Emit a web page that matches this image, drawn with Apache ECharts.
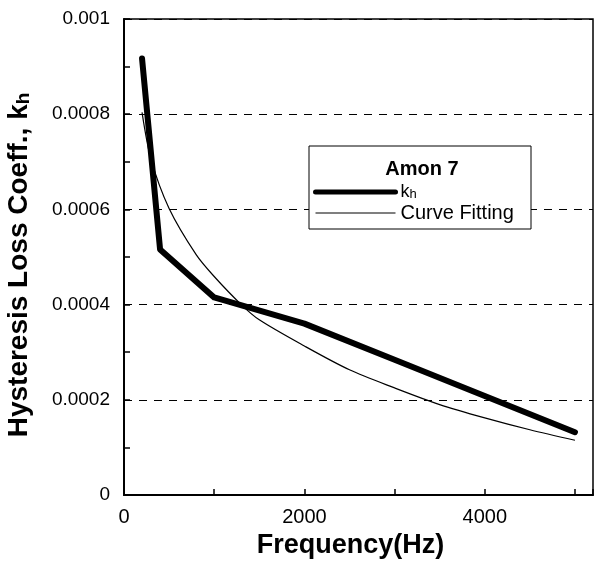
<!DOCTYPE html>
<html>
<head>
<meta charset="utf-8">
<script src="https://cdn.jsdelivr.net/npm/echarts@6/dist/echarts.min.js"></script>
<style>
    html, body { margin: 0; padding: 0; background: #fff; }
    #chart { width: 595px; height: 563px; }
</style>
</head>
<body>
<div id="chart"></div>
<script>
    // measured kh, Amon 7
    const khFreq = [200, 400, 1000, 2000, 3000, 4000, 5000];
    const khVals = [0.000917, 0.000516, 0.000415, 0.00036, 0.000284, 0.000208, 0.000132];

    // curve fitting
    const fitFreq = [200, 300, 500, 800, 1000, 1300, 1500, 2000, 2500, 3000, 3500, 4000, 4500, 5000];
    const fitVals = [0.000804, 0.000705, 0.000602, 0.000505, 0.000459, 0.0004, 0.000368, 0.000313,
                     0.000263, 0.000225, 0.00019, 0.000162, 0.000137, 0.000115];

    const xTickLabels = [0, 2000, 4000];

    const font = '"Liberation Sans", Arial, sans-serif';

    let myChart = echarts.init(document.getElementById('chart'));

    let option = {
        backgroundColor: '#fff',
        animation: false,
        grid: {
            left: 124,
            right: 2,
            top: 19,
            bottom: 68,
            outerBoundsMode: 'none',
            show: true,
            borderColor: '#000',
            borderWidth: 1.5
        },
        graphic: [
            {
                type: 'rect',
                z: 50,
                shape: { x: 309, y: 146, width: 222, height: 83 },
                style: { fill: '#fff', stroke: '#000', lineWidth: 1 }
            },
            {
                type: 'text',
                z: 51,
                style: {
                    x: 422, y: 169,
                    text: 'Amon 7',
                    align: 'center',
                    verticalAlign: 'middle',
                    font: 'bold 20px ' + font,
                    fill: '#000'
                }
            }
        ],
        legend: {
            z: 60,
            orient: 'vertical',
            left: 313,
            top: 183,
            padding: 0,
            itemWidth: 80,
            itemHeight: 14,
            itemGap: 2,
            itemStyle: { opacity: 0 },
            data: [
                { name: 'kh', lineStyle: { width: 5, color: '#000' } },
                { name: 'Curve Fitting', lineStyle: { width: 1.2, color: '#000' } }
            ],
            formatter: function (name) {
                return name === 'kh' ? '{k|k}{h|h}' : name;
            },
            textStyle: {
                color: '#000',
                fontFamily: font,
                fontSize: 20,
                rich: {
                    k: { fontSize: 18, fontFamily: font, color: '#000' },
                    h: { fontSize: 13, fontFamily: font, color: '#000', padding: [5, 0, 0, 0] }
                }
            }
        },
        xAxis: {
            type: 'value',
            min: 0,
            max: 5200,
            interval: 1000,
            name: 'Frequency(Hz)',
            nameLocation: 'middle',
            nameGap: 26,
            nameTextStyle: {
                fontFamily: font,
                fontSize: 27,
                fontWeight: 'bold',
                color: '#000',
                padding: [0, 16, 0, 0]
            },
            axisLine: { show: true, lineStyle: { color: '#000', width: 2 } },
            axisTick: { show: true, inside: true, length: 6, lineStyle: { color: '#000', width: 1.5 } },
            axisLabel: {
                margin: 12,
                color: '#000',
                fontFamily: font,
                fontSize: 20,
                formatter: function (v) {
                    return xTickLabels.indexOf(v) >= 0 ? String(v) : '';
                }
            },
            splitLine: { show: false }
        },
        yAxis: {
            type: 'value',
            min: 0,
            max: 0.001,
            interval: 0.0002,
            name: '{a|Hysteresis Loss Coeff., k}{b|h}',
            nameLocation: 'middle',
            nameGap: 91,
            nameTextStyle: {
                color: '#000',
                padding: [0, 16, 0, 0],
                rich: {
                    a: { fontFamily: font, fontSize: 28, fontWeight: 'bold', color: '#000' },
                    b: { fontFamily: font, fontSize: 19, fontWeight: 'bold', color: '#000', padding: [9, 0, 0, 0] }
                }
            },
            axisLine: { show: true, lineStyle: { color: '#000', width: 2 } },
            axisTick: { show: true, inside: true, length: 6, lineStyle: { color: '#000', width: 1.5 } },
            minorTick: { show: true, splitNumber: 2, length: 6, lineStyle: { color: '#000', width: 1.5 } },
            axisLabel: {
                margin: 14,
                color: '#000',
                fontFamily: font,
                fontSize: 19,
                formatter: function (v) {
                    return String(+v.toFixed(4));
                }
            },
            splitLine: { show: true, lineStyle: { color: '#000', width: 1, type: [8, 7] } }
        },
        series: [
            {
                name: 'kh',
                type: 'line',
                symbol: 'none',
                z: 3,
                lineStyle: { color: '#000', width: 6, cap: 'round', join: 'round' },
                itemStyle: { color: '#000' },
                data: khFreq.map((f, i) => [f, khVals[i]])
            },
            {
                name: 'Curve Fitting',
                type: 'line',
                symbol: 'none',
                smooth: 0.3,
                z: 2,
                lineStyle: { color: '#000', width: 1.2 },
                itemStyle: { color: '#000' },
                data: fitFreq.map((f, i) => [f, fitVals[i]])
            }
        ]
    };

    myChart.setOption(option, true);
</script>
</body>
</html>
